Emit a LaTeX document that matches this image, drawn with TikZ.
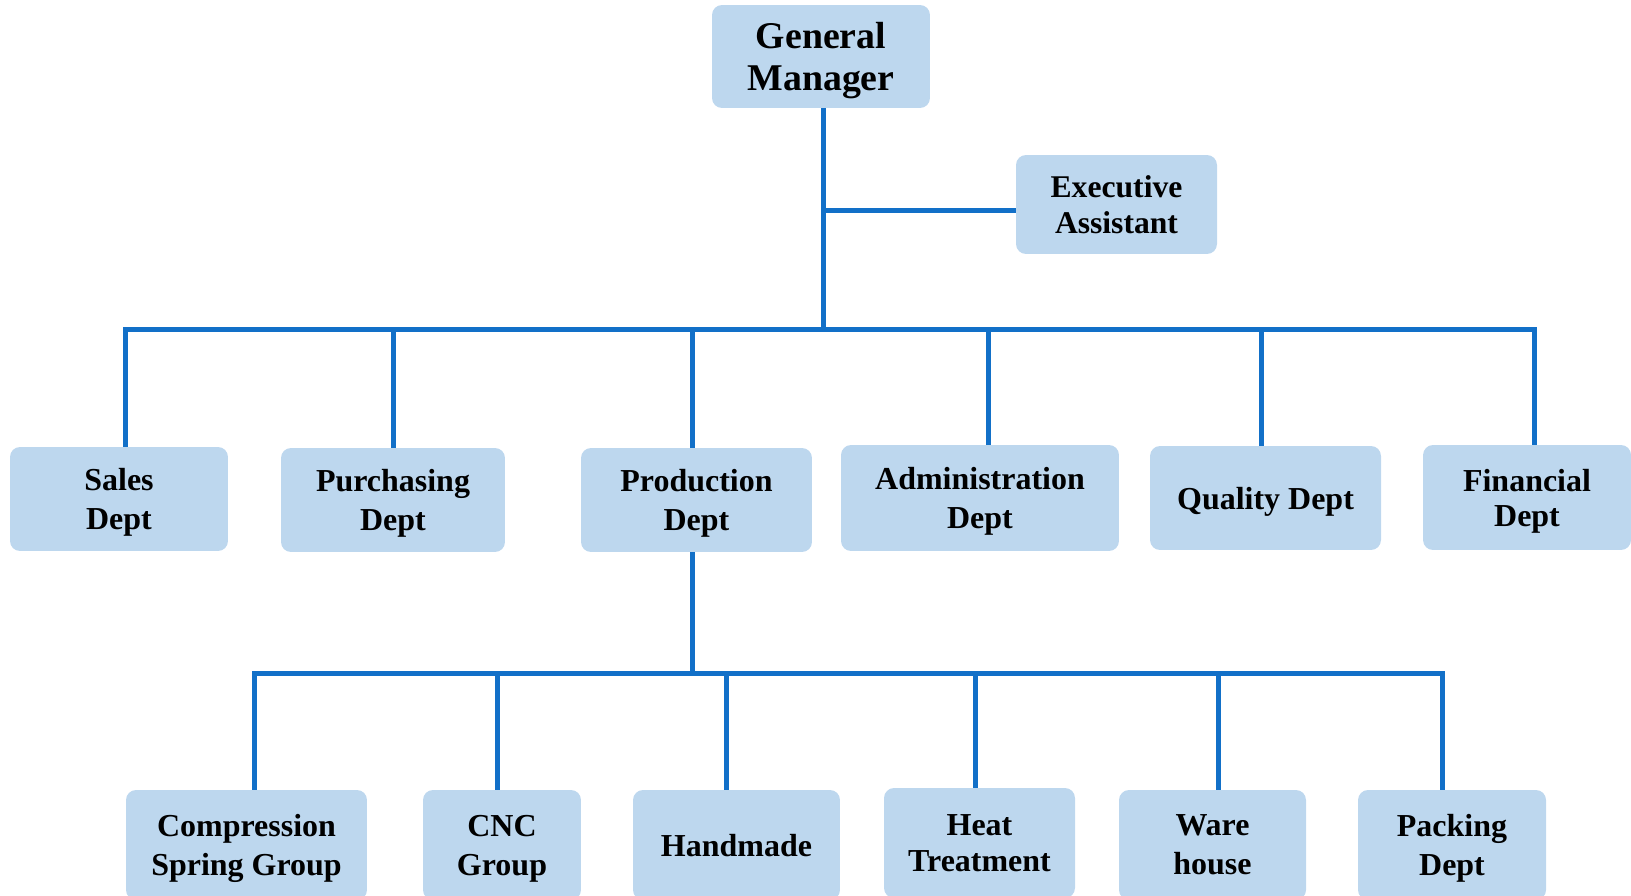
\documentclass[tikz,border=0pt]{standalone}
\usepackage{fontspec}
\setmainfont{Liberation Serif}
\usepackage{xcolor}
\usepackage{tikz}

\definecolor{boxblue}{RGB}{189,215,238}
\definecolor{lineblue}{RGB}{18,112,200}

\begin{document}
\begin{tikzpicture}[x=0.02cm,y=-0.02cm,
    box/.style={fill=boxblue, rounded corners=0.2cm, align=center, inner sep=0pt, text depth=0pt,
                font=\bfseries\fontsize{18.2}{22.2}\selectfont},
    tight/.style={font=\bfseries\fontsize{18.2}{20}\selectfont},
    link/.style={draw=lineblue, line width=0.1cm}]
    \useasboundingbox (0,0) rectangle (1631,895);

    % top of the chart
    \node[box, minimum width=4.36cm, minimum height=2.06cm,
          font=\bfseries\fontsize{21.5}{23.5}\selectfont] (gm) at (821,56.5) {General\\Manager};
    \node[box, minimum width=4.02cm, minimum height=1.98cm,
          font=\bfseries\fontsize{18}{20.2}\selectfont] (ea) at (1116.5,204.5) {Executive\\Assistant};

    % departments
    \node[box, minimum width=4.36cm, minimum height=2.08cm] (sales) at (119,499) {Sales\\Dept};
    \node[box, minimum width=4.48cm, minimum height=2.08cm] (purch) at (393,500) {Purchasing\\Dept};
    \node[box, minimum width=4.62cm, minimum height=2.08cm] (prod) at (696.5,500) {Production\\Dept};
    \node[box, minimum width=5.56cm, minimum height=2.12cm] (admin) at (980,498) {Administration\\Dept};
    \node[box, minimum width=4.62cm, minimum height=2.08cm] (quality) at (1265.5,498) {Quality Dept};
    \node[box, tight, minimum width=4.16cm, minimum height=2.10cm] (fin) at (1527,497.5) {Financial\\Dept};

    % production groups
    \node[box, minimum width=4.82cm, minimum height=2.2cm] (comp) at (246.5,845) {Compression\\Spring Group};
    \node[box, minimum width=3.16cm, minimum height=2.2cm] (cnc) at (502,845) {CNC\\Group};
    \node[box, minimum width=4.14cm, minimum height=2.2cm] (hand) at (736.5,845) {Handmade};
    \node[box, tight, minimum width=3.82cm, minimum height=2.2cm] (heat) at (979.5,843) {Heat\\Treatment};
    \node[box, minimum width=3.74cm, minimum height=2.2cm] (ware) at (1212.5,845) {Ware\\house};
    \node[box, minimum width=3.76cm, minimum height=2.2cm] (pack) at (1452,845) {Packing\\Dept};

    % manager to departments
    \coordinate (bus) at (823,329);
    \coordinate (ea-tap) at ([yshift=-3.6pt]ea.west);
    \draw[link] (bus |- gm.south) -- (bus);
    \draw[link] (ea-tap) -- (ea-tap -| bus);
    \foreach \n/\x in {sales/125, purch/393, prod/692, admin/988, quality/1261, fin/1534}{
        \coordinate (\n-tap) at (\x,329);
        \draw[link] (\n-tap) -- (\n-tap |- \n.north);
    }
    \draw[link, line cap=rect] (sales-tap) -- (fin-tap);

    % production to groups
    \coordinate (prod-low) at (692,673);
    \draw[link] (prod-low |- prod.south) -- (prod-low);
    \foreach \n/\x in {comp/254, cnc/497, hand/726, heat/975, ware/1218, pack/1442}{
        \coordinate (\n-tap) at (\x,673);
        \draw[link] (\n-tap) -- (\n-tap |- \n.north);
    }
    \draw[link, line cap=rect] (comp-tap) -- (pack-tap);
\end{tikzpicture}
\end{document}
